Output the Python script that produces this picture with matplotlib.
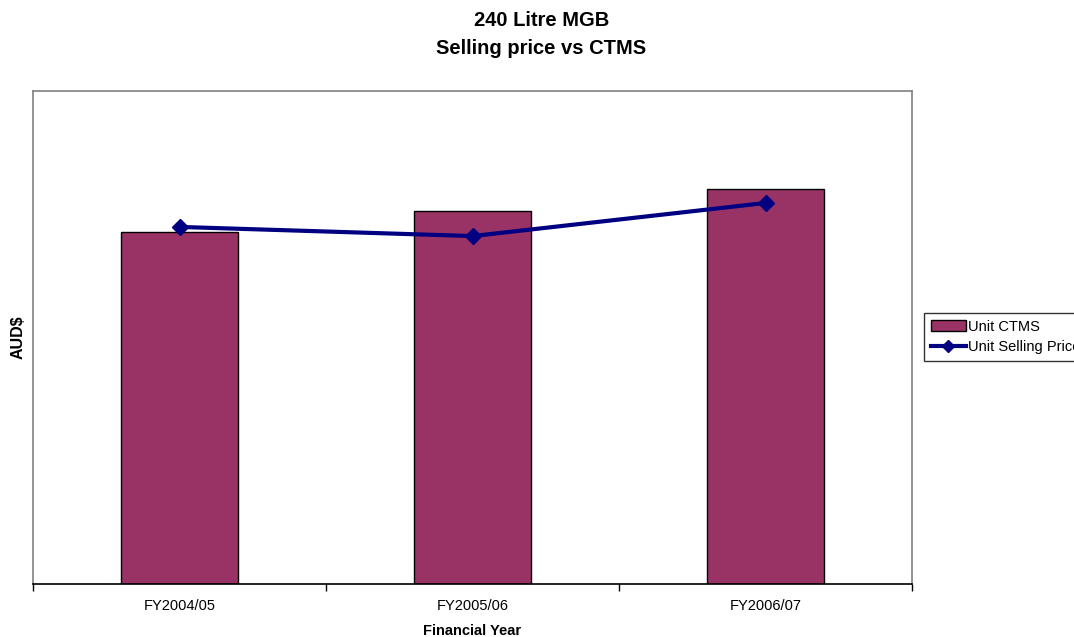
import matplotlib.pyplot as plt
import numpy as np
from matplotlib.patches import Patch
from matplotlib.lines import Line2D

years = ["FY2004/05", "FY2005/06", "FY2006/07"]
unit_ctms = [100.0, 106.0, 112.2]
unit_price = [101.4, 98.8, 108.2]

plt.rcParams['font.family'] = ['Liberation Sans', 'DejaVu Sans']

fig = plt.figure(figsize=(10.74, 6.37), dpi=100)
ax = fig.add_axes([33/1074, 1 - 584/637, (912 - 33)/1074, (584 - 91)/637])

x = np.arange(len(years))
ax.bar(x, unit_ctms, width=0.4, color='#993366', edgecolor='black', linewidth=1.0, zorder=2)
ax.plot(x, unit_price, color='#000080', linewidth=3, marker='D', markersize=8, zorder=3)

ax.set_xlim(-0.5, 2.5)
ax.set_ylim(0, 140)

# tick marks at category boundaries, labels at centres
ax.set_xticks([-0.5, 0.5, 1.5, 2.5])
ax.set_xticklabels([])
ax.set_xticks(x, minor=True)
ax.set_xticklabels(years, minor=True, fontsize=10.5)
ax.tick_params(axis='x', which='major', direction='out', length=5, width=1)
ax.tick_params(axis='x', which='minor', length=0, pad=11)
ax.set_yticks([])

for side in ['left', 'top', 'right']:
    ax.spines[side].set_color('#808080')
    ax.spines[side].set_linewidth(1.2)
ax.spines['bottom'].set_color('black')
ax.spines['bottom'].set_linewidth(1.2)

ax.set_xlabel("Financial Year", fontsize=10.5, fontweight='bold', va='center')
ax.xaxis.set_label_coords(0.5, (584 - 631) / 493)
ax.set_ylabel("AUD$", fontsize=11.5, fontweight='bold', labelpad=5)

fig.text(0.504, 1 - 20/637, "240 Litre MGB", ha='center', va='center',
         fontsize=14.5, fontweight='bold')
fig.text(0.504, 1 - 48/637, "Selling price vs CTMS", ha='center', va='center',
         fontsize=14.5, fontweight='bold')

# legend sits partly past the right edge, as in the original
handles = [Patch(facecolor='#993366', edgecolor='black', linewidth=1.0),
           Line2D([], [], color='#000080', linewidth=3, marker='D', markersize=6)]
leg = fig.legend(handles, ["Unit CTMS", "Unit Selling Price"],
                 loc='upper left', bbox_to_anchor=(924/1074, 1 - 313/637),
                 fontsize=10.5, frameon=True, fancybox=False, edgecolor='black',
                 handlelength=2.4, handletextpad=0.15, borderpad=0.45,
                 labelspacing=0.45, borderaxespad=0)
leg.get_frame().set_linewidth(1.0)

fig.savefig('out.png', dpi=100)
